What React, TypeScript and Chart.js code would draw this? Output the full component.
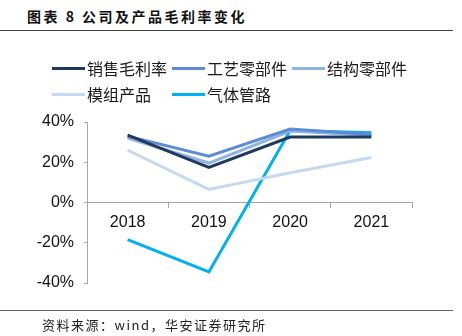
import React, { useEffect, useRef } from "react";
import { Chart, registerables } from "chart.js";

Chart.register(...registerables);

const categories = ["2018", "2019", "2020", "2021"];
const seriesNames = ["销售毛利率", "工艺零部件", "结构零部件", "模组产品", "气体管路"];
const salesMargin = [33.5, 17.4, 32.5, 32.5];
const processParts = [33, 23, 36.5, 33.8];
const structureParts = [32, 19.6, 35.5, 33.3];
const moduleProducts = [26, 6.5, 14.8, 22.4];
const gasPipes = [-18.4, -34.5, 35.8, 34.7];
const yTickValues = [-40, -20, 0, 20, 40];
const seriesColors = ["#1f3a60", "#5b8cd5", "#8fb4e2", "#c6d9f0", "#00b0f0"];

const tickFont = { family: "'Liberation Sans', Arial, sans-serif", size: 16 };

export default function App() {
  const ref = useRef<HTMLCanvasElement>(null);

  useEffect(() => {
    const allSeries = [salesMargin, processParts, structureParts, moduleProducts, gasPipes];
    const chart = new Chart(ref.current!, {
      type: "line",
      data: {
        labels: categories,
        datasets: allSeries.map((d, i) => ({
          label: seriesNames[i],
          data: d,
          borderColor: seriesColors[i],
          backgroundColor: seriesColors[i],
          borderWidth: 3,
          pointRadius: 0,
          tension: 0,
          fill: false,
          clip: false as any,
        })),
      },
      options: {
        responsive: false,
        animation: false,
        layout: { padding: { left: 0, right: 50, top: 122, bottom: 53 } },
        plugins: {
          legend: { display: false },
          tooltip: { enabled: false },
          title: { display: false },
        },
        scales: {
          x: {
            position: { y: 0 } as any,
            offset: true,
            grid: {
              offset: true,
              drawOnChartArea: false,
              drawTicks: true,
              tickLength: 5,
              color: "#a6a6a6",
            },
            border: { color: "#a6a6a6", width: 1 },
            ticks: { padding: 5, font: tickFont, color: "#111" },
          },
          y: {
            min: -40,
            max: 40,
            afterFit: (s: any) => {
              s.width = 87;
            },
            afterBuildTicks: (s: any) => {
              s.ticks = yTickValues.map((v) => ({ value: v }));
            },
            grid: {
              drawOnChartArea: false,
              drawTicks: true,
              tickLength: 3,
              color: "#a6a6a6",
            },
            border: { color: "#a6a6a6", width: 1 },
            ticks: {
              padding: 10,
              font: tickFont,
              color: "#111",
              callback: (v: any) => v + "%",
            },
          },
        },
      },
    });
    return () => chart.destroy();
  }, []);

  const cjk = "'Noto Sans CJK SC', 'Noto Sans', sans-serif";

  return (
    <div
      style={{
        position: "absolute",
        left: 0,
        top: 0,
        width: 462,
        height: 336,
        background: "#fff",
        overflow: "hidden",
      }}
    >
      <div
        style={{
          position: "absolute",
          left: 27,
          top: 6,
          fontFamily: cjk,
          fontWeight: 700,
          fontSize: 14,
          lineHeight: "20px",
          letterSpacing: "2.5px",
          color: "#111",
          whiteSpace: "nowrap",
        }}
      >
        图表 8 公司及产品毛利率变化
      </div>
      <div style={{ position: "absolute", left: 0, top: 30, width: 453, height: 1, background: "#444" }} />

      <canvas
        ref={ref}
        width={462}
        height={336}
        style={{ position: "absolute", left: 0, top: 0, width: 462, height: 336 }}
      />

      <div
        style={{
          position: "absolute",
          left: 52,
          top: 58,
          display: "grid",
          gridTemplateColumns: "auto auto auto",
          columnGap: 5,
          rowGap: 6,
          fontFamily: cjk,
          fontSize: 16,
          lineHeight: "20px",
          color: "#1a1a1a",
        }}
      >
        {seriesNames.map((n, i) => (
          <div key={n} style={{ display: "flex", alignItems: "center", whiteSpace: "nowrap" }}>
            <span
              style={{
                display: "inline-block",
                width: 33,
                height: 3,
                background: seriesColors[i],
                marginRight: 2,
              }}
            />
            <span>{n}</span>
          </div>
        ))}
      </div>

      <div style={{ position: "absolute", left: 0, top: 310, width: 453, height: 1, background: "#666" }} />
      <div
        style={{
          position: "absolute",
          left: 42,
          top: 316,
          fontFamily: cjk,
          fontSize: 13,
          lineHeight: "18px",
          letterSpacing: "1.5px",
          color: "#222",
          whiteSpace: "nowrap",
        }}
      >
        资料来源：wind，华安证券研究所
      </div>
    </div>
  );
}
